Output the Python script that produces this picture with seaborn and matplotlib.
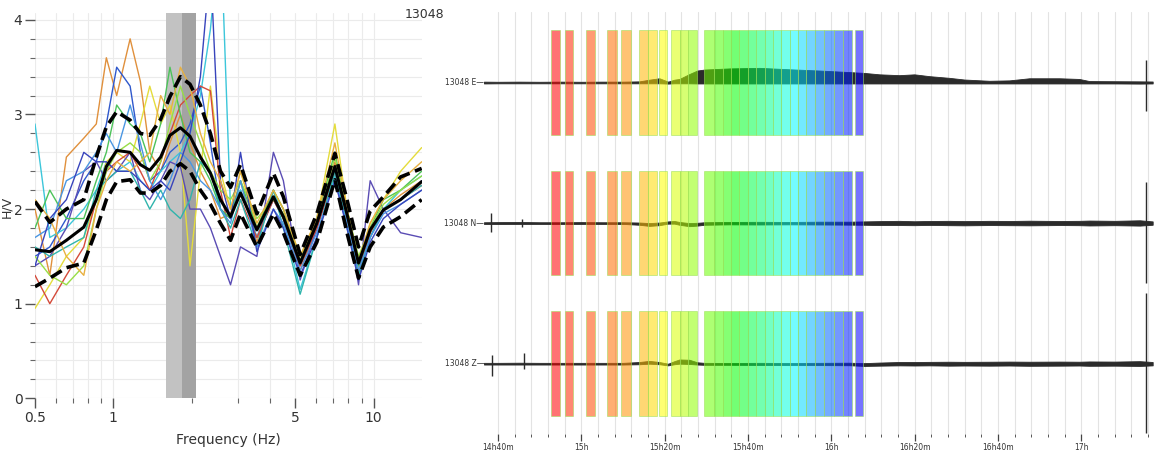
import matplotlib
matplotlib.use("Agg")
import matplotlib.pyplot as plt
from matplotlib.colors import hsv_to_rgb
from matplotlib.ticker import FixedLocator, FixedFormatter, NullFormatter, MultipleLocator
import numpy as np
import pandas as pd
import seaborn as sns

# ---------------- left panel: H/V curves ----------------
freqs = [0.50, 0.57, 0.66, 0.77, 0.86, 0.94, 1.03, 1.16, 1.27, 1.38, 1.52, 1.65, 1.81, 1.97, 2.16, 2.36,
         2.58, 2.82, 3.08, 3.56, 4.12, 4.50, 5.22, 6.05, 7.10, 7.90, 8.75, 9.70, 10.9, 12.7, 15.3]

hv_mean = [1.57, 1.55, 1.67, 1.81, 2.10, 2.45, 2.62, 2.60, 2.47, 2.41, 2.55, 2.78, 2.86, 2.77, 2.55, 2.38,
           2.10, 1.92, 2.17, 1.78, 2.13, 1.92, 1.43, 1.85, 2.45, 1.95, 1.43, 1.78, 1.99, 2.10, 2.29]
hv_upper = [2.08, 1.86, 2.00, 2.10, 2.55, 2.87, 3.03, 2.94, 2.80, 2.78, 2.95, 3.19, 3.40, 3.32, 3.10, 2.80,
            2.40, 2.23, 2.47, 1.95, 2.38, 2.13, 1.52, 1.95, 2.59, 2.10, 1.60, 1.98, 2.13, 2.34, 2.43]
hv_lower = [1.18, 1.27, 1.38, 1.43, 1.78, 2.10, 2.29, 2.31, 2.17, 2.17, 2.25, 2.40, 2.48, 2.40, 2.20, 2.05,
            1.85, 1.67, 1.95, 1.60, 1.95, 1.75, 1.30, 1.65, 2.31, 1.75, 1.27, 1.60, 1.81, 1.92, 2.10]

# individual windows (a selection)
hv_w_orange = [2.0, 1.3, 2.55, 2.75, 2.9, 3.6, 3.2, 3.8, 3.35, 2.6, 2.4, 2.7, 3.0, 2.7, 2.4, 2.2,
               1.9, 1.95, 2.3, 1.65, 2.2, 1.9, 1.35, 1.8, 2.5, 1.9, 1.35, 1.75, 2.0, 2.15, 2.3]
hv_w_blue = [1.5, 1.6, 1.9, 2.3, 2.5, 2.9, 3.5, 3.3, 2.6, 2.3, 2.4, 2.6, 2.7, 2.9, 3.3, 2.7,
             2.0, 1.9, 2.2, 1.7, 2.1, 1.9, 1.4, 1.8, 2.4, 1.9, 1.4, 1.8, 2.0, 2.1, 2.3]
hv_w_cyan = [2.9, 1.7, 1.8, 2.0, 2.2, 2.5, 2.4, 2.5, 2.3, 2.2, 2.4, 2.5, 2.6, 2.8, 3.2, 3.9,
             5.0, 2.0, 2.2, 1.7, 2.2, 1.9, 1.15, 1.7, 2.35, 1.8, 1.3, 1.7, 2.0, 2.2, 2.35]
hv_w_yellow = [0.95, 1.2, 1.5, 1.7, 2.1, 2.5, 2.6, 2.5, 2.9, 3.3, 2.9, 3.1, 2.6, 1.4, 2.4, 3.3,
               2.4, 2.0, 2.4, 1.8, 2.2, 2.0, 1.5, 1.9, 2.9, 2.0, 1.45, 1.85, 2.1, 2.4, 2.65]
hv_w_purple = [1.4, 1.5, 1.8, 2.4, 2.5, 2.3, 2.4, 2.6, 2.2, 2.1, 2.3, 2.5, 2.45, 2.0, 2.0, 1.8,
               1.5, 1.2, 1.6, 1.5, 2.6, 2.3, 1.25, 1.8, 2.4, 2.0, 1.2, 2.3, 2.0, 1.75, 1.7]
hv_w_red = [1.3, 1.0, 1.3, 1.6, 2.1, 2.4, 2.5, 2.6, 2.4, 2.2, 2.5, 2.8, 3.1, 3.2, 3.3, 3.25,
            2.2, 1.7, 2.1, 1.7, 2.1, 1.9, 1.4, 1.8, 2.4, 1.9, 1.3, 1.75, 2.0, 2.1, 2.25]
hv_w_green = [1.8, 2.2, 1.9, 1.9, 2.3, 2.6, 3.1, 2.9, 2.8, 2.5, 2.9, 3.5, 3.0, 2.6, 2.5, 2.3,
              2.0, 1.9, 2.3, 1.8, 2.2, 2.0, 1.45, 1.9, 2.6, 1.95, 1.4, 1.8, 2.1, 2.2, 2.4]
hv_w_lime = [1.5, 1.3, 1.2, 1.4, 2.0, 2.4, 2.6, 2.7, 2.6, 2.3, 2.5, 2.9, 3.3, 3.0, 2.7, 2.4,
             2.2, 2.1, 2.3, 1.9, 2.1, 1.95, 1.5, 1.85, 2.55, 2.0, 1.5, 1.8, 2.05, 2.2, 2.35]
hv_w_teal = [1.6, 1.5, 1.6, 1.7, 2.2, 2.3, 2.4, 2.4, 2.2, 2.0, 2.2, 2.0, 1.9, 2.1, 2.5, 2.4,
             2.0, 1.8, 2.1, 1.6, 2.2, 1.8, 1.1, 1.7, 2.4, 1.85, 1.3, 1.7, 2.0, 2.1, 2.25]
hv_w_skyblue = [1.7, 1.8, 2.3, 2.4, 2.6, 2.8, 2.6, 3.1, 2.7, 2.3, 2.1, 2.3, 2.6, 2.5, 2.3, 2.2,
                2.0, 1.85, 2.3, 1.6, 2.0, 1.85, 1.35, 1.75, 2.3, 1.85, 1.35, 1.7, 1.95, 2.05, 2.2]
hv_w_navy = [1.4, 1.9, 2.1, 2.6, 2.5, 2.5, 2.4, 2.4, 2.3, 2.2, 2.3, 2.2, 2.5, 2.8, 3.4, 4.6,
             2.3, 1.9, 2.6, 1.55, 2.0, 1.8, 1.3, 1.7, 2.3, 1.8, 1.25, 1.65, 1.9, 2.05, 2.2]
hv_w_amber = [2.1, 1.9, 1.5, 1.3, 2.0, 2.3, 2.5, 2.4, 2.5, 2.6, 3.2, 3.0, 3.5, 3.3, 2.8, 2.5,
              2.3, 2.0, 2.4, 1.85, 2.2, 2.0, 1.5, 1.9, 2.7, 2.0, 1.45, 1.85, 2.1, 2.3, 2.5]

f0 = 1.83
f0_low = 1.59
f0_high = 2.07

x_major = [0.5, 1, 5, 10]
x_major_labels = ["0.5", "1", "5", "10"]
x_minor = [0.6, 0.7, 0.8, 0.9, 2, 3, 4, 6, 7, 8, 9]

# ---------------- right panel: traces & windows ----------------
trace_t = [36.6, 40, 45, 50, 55, 60, 65, 70, 73.9, 76.3, 78.7, 80.8, 82.3, 83.5, 85.9, 87.8, 89.5, 95.5, 102.7,
           109.9, 117.1, 124.3, 127.9, 131.5, 136.3, 139.9, 143.5, 148.3, 151.9, 157.9, 162.7, 167.5, 174.7,
           179.5, 181.9, 188, 194, 197.1]
e_upper = [0.006, 0.005, 0.006, 0.005, 0.006, 0.005, 0.006, 0.006, 0.008, 0.02, 0.03, 0.006, 0.02, 0.025,
           0.06, 0.085, 0.092, 0.1, 0.104, 0.094, 0.085, 0.074, 0.068, 0.058, 0.052, 0.058, 0.045, 0.033,
           0.021, 0.012, 0.015, 0.03, 0.03, 0.025, 0.01, 0.009, 0.008, 0.007]
e_lower = [-0.007, -0.006, -0.006, -0.006, -0.006, -0.006, -0.006, -0.006, -0.006, -0.006, -0.006, -0.008,
           -0.006, -0.006, -0.006, -0.007, -0.007, -0.007, -0.007, -0.007, -0.007, -0.007, -0.007, -0.007,
           -0.007, -0.007, -0.007, -0.007, -0.007, -0.007, -0.007, -0.007, -0.007, -0.007, -0.007, -0.007,
           -0.008, -0.007]
n_upper = [0.006, 0.007, 0.008, 0.006, 0.006, 0.007, 0.006, 0.006, 0.004, 0.0, 0.004, 0.012, 0.015, 0.008,
           0.0, 0.002, 0.006, 0.008, 0.009, 0.008, 0.01, 0.01, 0.012, 0.014, 0.016, 0.013, 0.015, 0.016,
           0.014, 0.016, 0.015, 0.017, 0.015, 0.016, 0.018, 0.016, 0.02, 0.012]
n_lower = [-0.006, -0.007, -0.006, -0.006, -0.006, -0.006, -0.006, -0.006, -0.012, -0.02, -0.015, -0.004,
           -0.004, -0.012, -0.022, -0.018, -0.012, -0.009, -0.01, -0.009, -0.01, -0.011, -0.012, -0.014,
           -0.014, -0.015, -0.013, -0.015, -0.016, -0.014, -0.015, -0.016, -0.014, -0.015, -0.017, -0.015,
           -0.018, -0.012]
z_upper = [0.006, 0.006, 0.007, 0.006, 0.006, 0.006, 0.006, 0.006, 0.012, 0.02, 0.012, 0.0, 0.018, 0.03,
           0.028, 0.01, 0.006, 0.005, 0.006, 0.005, 0.006, 0.007, 0.004, 0.008, 0.012, 0.012, 0.013, 0.014,
           0.013, 0.014, 0.015, 0.014, 0.015, 0.014, 0.016, 0.015, 0.018, 0.012]
z_lower = [-0.006, -0.006, -0.006, -0.006, -0.006, -0.006, -0.006, -0.006, -0.004, 0.0, -0.004, -0.012,
           -0.004, 0.0, -0.002, -0.006, -0.008, -0.008, -0.009, -0.01, -0.01, -0.011, -0.016, -0.014, -0.012,
           -0.013, -0.012, -0.014, -0.013, -0.014, -0.013, -0.015, -0.014, -0.013, -0.015, -0.014, -0.016,
           -0.012]

e_spike_t = [195.5]
e_spike_lo = [-0.2]
e_spike_hi = [0.16]
n_spike_t = [38.25, 45.8, 195.4]
n_spike_lo = [-0.06, -0.025, -0.425]
n_spike_hi = [0.075, 0.03, 0.295]
z_spike_t = [38.6, 46.2, 195.5]
z_spike_lo = [-0.09, -0.04, -0.49]
z_spike_hi = [0.064, 0.076, 0.5]

win_start = [52.8, 56.0, 61.2, 66.2, 69.5, 73.9, 76.0, 78.7, 81.6, 83.6, 85.6, 89.5, 91.9, 93.9, 95.9,
             97.9, 99.9, 101.9, 104.0, 106.0, 108.0, 110.0, 112.0, 114.0, 116.1, 118.3, 120.7, 122.8, 125.7]
win_end = [54.9, 58.0, 63.3, 68.5, 71.9, 76.0, 78.2, 80.6, 83.6, 85.6, 87.7, 91.9, 93.9, 95.9, 97.9,
           99.9, 101.9, 104.0, 106.0, 108.0, 110.0, 112.0, 114.0, 116.1, 118.3, 120.7, 122.8, 124.9, 127.5]

components = ["13048 E", "13048 N", "13048 Z"]
time_ticks = [40, 60, 80, 100, 120, 140, 160, 180]  # minutes after 14h
time_labels = ["14h40m", "15h", "15h20m", "15h40m", "16h", "16h20m", "16h40m", "17h"]

# ---------------- figure ----------------
sns.set_style("white")
plt.rcParams['font.family'] = ['DejaVu Sans']

fig = plt.figure(figsize=(11.55, 4.51), dpi=100)
ax1 = fig.add_axes([0.0303, 0.1169, 0.3348, 0.8549])
ax2 = fig.add_axes([0.419, 0.0377, 0.579, 0.9353])

# left panel
ax1.axvspan(f0_low, f0, color="#c2c2c2", lw=0, zorder=1)
ax1.axvspan(f0, f0_high, color="#a3a3a3", lw=0, zorder=1)

win_curves = [hv_w_orange, hv_w_blue, hv_w_cyan, hv_w_yellow, hv_w_purple, hv_w_red,
              hv_w_green, hv_w_lime, hv_w_teal, hv_w_skyblue, hv_w_navy, hv_w_amber]
curve_colors = ["#e0903c", "#2f58cc", "#3cc6da", "#e4dc3c", "#5a4cb4", "#d44a3a",
                "#4cc25a", "#98de46", "#2fb4ac", "#4a96e2", "#3844bc", "#e8b040"]
rows = []
for k, vals in enumerate(win_curves):
    for f, v in zip(freqs, vals):
        rows.append({"freq": f, "hv": v, "win": k})
df = pd.DataFrame(rows)
sns.lineplot(data=df, x="freq", y="hv", hue="win", palette=curve_colors, lw=1.0,
             estimator=None, legend=False, ax=ax1, zorder=2)

sns.lineplot(x=freqs, y=hv_mean, color="black", lw=2.2, ax=ax1, zorder=4)
sns.lineplot(x=freqs, y=hv_upper, color="black", lw=2.6, linestyle=(0, (3.5, 1.6)), ax=ax1, zorder=4)
sns.lineplot(x=freqs, y=hv_lower, color="black", lw=2.6, linestyle=(0, (3.5, 1.6)), ax=ax1, zorder=4)

ax1.set_xscale("log")
ax1.set_xlim(0.5, 15.3)
ax1.set_ylim(0, 4.076)
ax1.xaxis.set_major_locator(FixedLocator(x_major))
ax1.xaxis.set_major_formatter(FixedFormatter(x_major_labels))
ax1.xaxis.set_minor_locator(FixedLocator(x_minor))
ax1.xaxis.set_minor_formatter(NullFormatter())
ax1.yaxis.set_major_locator(FixedLocator([0, 1, 2, 3, 4]))
ax1.yaxis.set_minor_locator(MultipleLocator(0.2))
ax1.grid(which="both", color="#ebebeb", lw=0.8)
ax1.set_axisbelow(True)
for s in ax1.spines.values():
    s.set_visible(False)
ax1.tick_params(which="major", length=7, width=1, color="#555555", labelsize=10,
                labelcolor="#333333", direction="out", pad=2, left=True, bottom=True)
ax1.tick_params(which="minor", length=3.5, width=0.8, color="#666666", direction="out",
                left=True, bottom=True)
ax1.set_xlabel("Frequency (Hz)", fontsize=10, color="#333333", labelpad=6)
ax1.set_ylabel("")
fig.text(0.0005, 1 - 207 / 451, "H/V", rotation=90, ha="left", va="center", fontsize=9, color="#333333")
fig.text(444 / 1155, 1 - 15 / 451, "13048", ha="right", va="center", fontsize=9, color="#333333")

# right panel
centers = [2, 1, 0]
uppers = [e_upper, n_upper, z_upper]
lowers = [e_lower, n_lower, z_lower]
spikes = [(e_spike_t, e_spike_lo, e_spike_hi), (n_spike_t, n_spike_lo, n_spike_hi),
          (z_spike_t, z_spike_lo, z_spike_hi)]
trace_color = "#2b2b2b"
for c, up, lo, (st, slo, shi), name in zip(centers, uppers, lowers, spikes, components):
    ax2.fill_between(trace_t, c + np.array(lo), c + np.array(up), color=trace_color,
                     lw=0.6, edgecolor=trace_color, zorder=2)
    ax2.vlines(st, c + np.array(slo), c + np.array(shi), color=trace_color, lw=1.0, zorder=2)
    ax2.text(36.6, c, name + "\u2014", ha="right", va="center", fontsize=5.5,
             color="#333333", clip_on=False)

n_win = len(win_start)
win_colors = [hsv_to_rgb((0.67 * i / (n_win - 1), 1.0, 1.0)) for i in range(n_win)]
widths = np.array(win_end) - np.array(win_start)
half = 0.372
for c in centers:
    ax2.bar(win_start, 2 * half, width=widths, bottom=c - half, align="edge", color=win_colors,
            alpha=0.55, edgecolor="#9ee05a", lw=0.7, zorder=3)

ax2.set_xlim(36.6, 197.1)
ax2.set_ylim(-0.5, 2.5)
ax2.xaxis.set_major_locator(FixedLocator(time_ticks))
ax2.xaxis.set_major_formatter(FixedFormatter(time_labels))
ax2.xaxis.set_minor_locator(FixedLocator(list(range(40, 197, 4))))
ax2.xaxis.set_minor_formatter(NullFormatter())
ax2.set_yticks([])
ax2.grid(axis="x", which="both", color="#e3e3e3", lw=0.8)
ax2.set_axisbelow(True)
for s in ax2.spines.values():
    s.set_visible(False)
ax2.tick_params(axis="x", which="major", length=5, width=0.9, color="#444444", labelsize=5.5,
                labelcolor="#333333", direction="out", pad=1.5, bottom=True)
ax2.tick_params(axis="x", which="minor", length=2.5, width=0.7, color="#555555", direction="out",
                bottom=True)
ax2.set_xlabel("")

fig.savefig("out.png", dpi=100)
